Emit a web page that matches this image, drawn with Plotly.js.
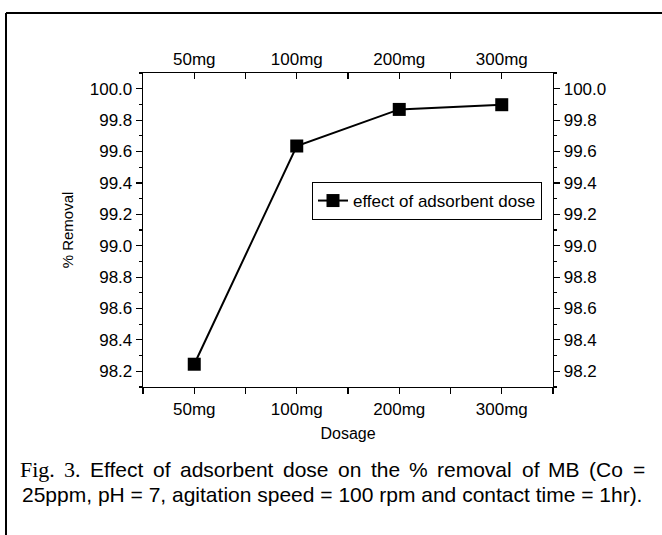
<!DOCTYPE html>
<html>
<head>
<meta charset="utf-8">
<script src="https://cdn.plot.ly/plotly-3.0.1.min.js"></script>
<style>html,body{margin:0;padding:0;background:#fff;}</style>
</head>
<body>
<div id="chart" style="width:662px;height:535px;"></div>
<script>
// ---- data ----
const categories = ["50mg", "100mg", "200mg", "300mg"];
const removal = [98.245, 99.635, 99.868, 99.898];
const halfTicks = [-0.5, 0.5, 1.5, 2.5, 3.5];
const seriesName = "effect of adsorbent dose";
const xTitle = "Dosage";
const yTitle = "% Removal";
const captionLabel = "Fig. 3.";
const captionLine1 = "Effect of adsorbent dose on the % removal of MB (Co =";
const captionLine2 = "25ppm, pH = 7, agitation speed = 100 rpm and contact time = 1hr).";

// ---- layout helpers ----
const W = 662, H = 535;
const M = {l: 143, r: 109, t: 73, b: 148};
const PW = W - M.l - M.r, PH = H - M.t - M.b;
const px = v => (v - M.l) / PW;
const py = v => (H - M.b - v) / PH;

const FONT = "Liberation Sans, Arial, sans-serif";
const SERIF = "Liberation Serif, Times New Roman, serif";
const CAP_SIZE = 21, CAP_LABEL_SIZE = 22;
const yRange = [98.1, 100.1];
const xRange = [-0.5, 3.5];

const traces = [
  {
    x: categories, y: removal, type: "scatter", mode: "lines+markers",
    name: seriesName, xaxis: "x", yaxis: "y",
    line: {color: "#000", width: 2},
    marker: {symbol: "square", size: 13, color: "#000"}
  },
  { // carries the top category axis and right value axis
    x: categories, y: removal, type: "scatter", mode: "markers",
    xaxis: "x2", yaxis: "y2", showlegend: false, hoverinfo: "skip",
    marker: {opacity: 0}
  },
  {x: [0], y: [99], xaxis: "x3", yaxis: "y", type: "scatter", mode: "markers", marker: {opacity: 0}, showlegend: false, hoverinfo: "skip"},
  {x: [0], y: [99], xaxis: "x4", yaxis: "y", type: "scatter", mode: "markers", marker: {opacity: 0}, showlegend: false, hoverinfo: "skip"}
];

const baseX = {
  range: xRange, showgrid: false, zeroline: false, fixedrange: true,
  linecolor: "#000", linewidth: 1.3, tickcolor: "#000", tickwidth: 1.2, ticklen: 6
};
const baseY = {
  range: yRange, dtick: 0.2, tick0: 98.2, tickformat: ".1f",
  showgrid: false, zeroline: false, showline: true, fixedrange: true,
  linecolor: "#000", linewidth: 1.3, tickcolor: "#000", tickwidth: 1.2, ticklen: 6,
  ticks: "outside",
  tickfont: {family: FONT, size: 17, color: "#000"},
  minor: {dtick: 0.1, tick0: 98.1, ticklen: 3, ticks: "outside", tickcolor: "#000", tickwidth: 1.2, showgrid: false}
};

// ---- justified first caption line (word positions measured with canvas) ----
const ctx = document.createElement("canvas").getContext("2d");
const words1 = captionLabel.split(" ").map(w => ({w, fam: SERIF, size: CAP_LABEL_SIZE}))
  .concat(captionLine1.split(" ").map(w => ({w, fam: FONT, size: CAP_SIZE})));
words1.forEach(o => { ctx.font = o.size + "px " + o.fam; o.width = ctx.measureText(o.w).width; });
const left = 20, right = 645;
const totalW = words1.reduce((s, o) => s + o.width, 0);
const gap = (right - left - totalW) / (words1.length - 1);
let cursor = left;
const captionAnns = words1.map(o => {
  const a = {text: o.w, xref: "paper", yref: "paper", x: px(cursor), y: py(469),
    xanchor: "left", yanchor: "middle", showarrow: false, borderpad: 0, borderwidth: 0,
    font: {family: o.fam, size: o.size, color: "#000"}};
  cursor += o.width + gap;
  return a;
});
captionAnns.push({text: captionLine2, xref: "paper", yref: "paper", x: px(20), y: py(494),
  xanchor: "left", yanchor: "middle", showarrow: false,
  font: {family: FONT, size: CAP_SIZE, color: "#000"}});

const layout = {
  width: W, height: H,
  margin: M,
  paper_bgcolor: "#fff", plot_bgcolor: "#fff",
  showlegend: true,
  font: {family: FONT, color: "#000"},
  xaxis: Object.assign({}, baseX, {
    type: "category", categoryarray: categories, categoryorder: "array",
    showline: true, ticks: "outside", anchor: "y",
    tickfont: {family: FONT, size: 17, color: "#000"},
    title: {text: xTitle, font: {family: FONT, size: 16, color: "#000"}, standoff: 10}
  }),
  xaxis3: Object.assign({}, baseX, {
    type: "linear", overlaying: "x", anchor: "y", side: "bottom",
    tickmode: "array", tickvals: halfTicks, ticks: "outside",
    showticklabels: false, showline: false
  }),
  xaxis2: Object.assign({}, baseX, {
    type: "category", categoryarray: categories, categoryorder: "array",
    overlaying: "x", anchor: "y", side: "top",
    showline: true, ticks: "inside",
    tickfont: {family: FONT, size: 17, color: "#000"}
  }),
  xaxis4: Object.assign({}, baseX, {
    type: "linear", overlaying: "x", anchor: "y", side: "top",
    tickmode: "array", tickvals: halfTicks, ticks: "inside",
    showticklabels: false, showline: false
  }),
  yaxis: Object.assign({}, baseY, {
    anchor: "x", side: "left",
    title: {text: yTitle, font: {family: FONT, size: 15, color: "#000"}, standoff: 12}
  }),
  yaxis2: Object.assign({}, baseY, {
    anchor: "x", side: "right", overlaying: "y",
    minor: {dtick: 0.1, tick0: 98.1, ticklen: 3, ticks: "outside", tickcolor: "#000", tickwidth: 1.2, showgrid: false}
  }),
  legend: {
    x: px(312), y: py(182), xanchor: "left", yanchor: "top",
    bgcolor: "#fff", bordercolor: "#000", borderwidth: 1,
    font: {family: FONT, size: 17, color: "#000"},
    itemwidth: 30
  },
  shapes: [
    {type: "line", xref: "paper", yref: "paper", x0: px(6), x1: px(662), y0: py(13), y1: py(13), line: {color: "#000", width: 2}},
    {type: "line", xref: "paper", yref: "paper", x0: px(6), x1: px(6), y0: py(13), y1: py(535), line: {color: "#000", width: 2}}
  ],
  annotations: captionAnns
};

Plotly.newPlot("chart", traces, layout, {displayModeBar: false, staticPlot: true});
</script>
</body>
</html>
